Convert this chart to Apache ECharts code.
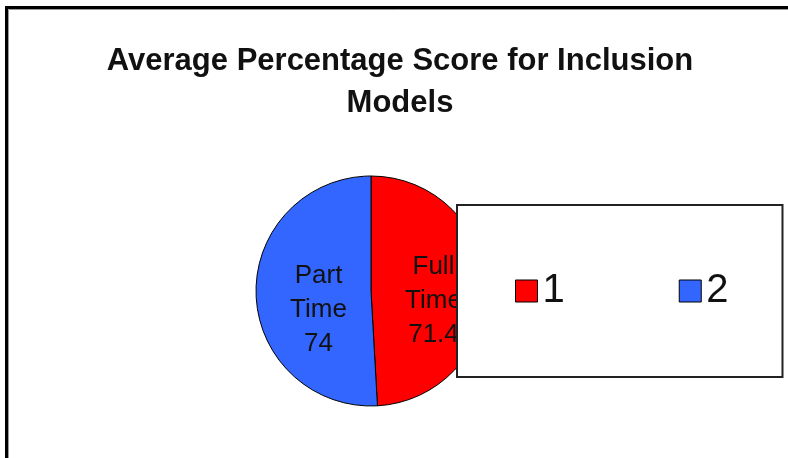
<!DOCTYPE html>
<html>
<head>
<meta charset="utf-8">
<title>Average Percentage Score for Inclusion Models</title>
<script src="https://cdn.jsdelivr.net/npm/echarts@6/dist/echarts.min.js"></script>
<style>
  html, body { margin: 0; padding: 0; background: #fff; }
  #chart { width: 788px; height: 458px; }
</style>
</head>
<body>
<div id="chart"></div>
<script>
  // data
  var sliceNames = ['1', '2'];                  // legend entries
  var sliceLabels = ['Full Time', 'Part Time']; // text inside the slices
  var sliceValues = [71.4, 74];

  // styling per slice
  var sliceColors = ['#ff0000', '#3366ff'];
  var labelShift = [[2, 12], [8, 17]];

  var pieData = [];
  for (var i = 0; i < sliceNames.length; i++) {
    pieData.push({
      name: sliceNames[i],
      value: sliceValues[i],
      itemStyle: { color: sliceColors[i] },
      label: { offset: labelShift[i] }
    });
  }

  var chart = echarts.init(document.getElementById('chart'));
  chart.setOption({
    backgroundColor: '#fff',
    animation: false,
    title: {
      text: 'Average Percentage Score for Inclusion\nModels',
      left: 400,
      top: 40,
      padding: 0,
      textAlign: 'center',
      textStyle: {
        fontFamily: 'Arial, "Liberation Sans", sans-serif',
        fontSize: 31,
        fontWeight: 'bold',
        lineHeight: 42,
        color: '#111'
      }
    },
    legend: {
      data: sliceNames,
      left: 457,
      top: 205,
      orient: 'horizontal',
      icon: 'rect',
      itemWidth: 22,
      itemHeight: 22,
      itemGap: 114,
      padding: [66, 54, 66, 58],
      backgroundColor: '#fff',
      borderColor: '#222',
      borderWidth: 2,
      borderRadius: 0,
      itemStyle: { borderColor: '#000', borderWidth: 1 },
      textStyle: {
        fontFamily: 'Arial, "Liberation Sans", sans-serif',
        fontSize: 40,
        color: '#111'
      },
      selectedMode: false
    },
    graphic: [
      {
        type: 'polyline',
        shape: { points: [[6.5, 458], [6.5, 7.5], [788, 7.5]] },
        style: { stroke: '#000', lineWidth: 3, fill: null }
      },
      {
        type: 'polyline',
        shape: { points: [[8.5, 458], [8.5, 9.5], [788, 9.5]] },
        style: { stroke: '#999', lineWidth: 1, fill: null }
      }
    ],
    series: [
      {
        name: 'Average Percentage Score',
        type: 'pie',
        center: [371, 291],
        radius: 115,
        startAngle: 90,
        clockwise: true,
        avoidLabelOverlap: false,
        itemStyle: { borderColor: '#000', borderWidth: 1 },
        label: {
          show: true,
          position: 'inside',
          fontFamily: 'Arial, "Liberation Sans", sans-serif',
          fontSize: 26,
          lineHeight: 34,
          color: '#111',
          formatter: function (p) {
            return sliceLabels[p.dataIndex].replace(' ', '\n') + '\n' + p.value;
          }
        },
        labelLine: { show: false },
        emphasis: { disabled: true },
        data: pieData
      }
    ]
  });
</script>
</body>
</html>
